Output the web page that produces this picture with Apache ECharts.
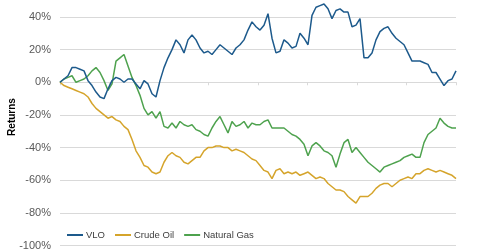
<!DOCTYPE html>
<html>
<head>
<meta charset="utf-8">
<script src="https://cdn.jsdelivr.net/npm/echarts@6/dist/echarts.min.js"></script>
<style>html,body{margin:0;padding:0;background:#fff}#c{width:480px;height:251px}</style>
</head>
<body>
<div id="c"></div>
<script>
var seriesNames = ['VLO', 'Crude Oil', 'Natural Gas'];
var yTicks = [-100, -80, -60, -40, -20, 0, 20, 40];
var vlo = [0,2,4,9,9,8,7,1,-2,-6,-9,-10,-4,1,3,2,0,2,2,-1,-4,1,-1,-7,-9,1,9,15,20,26,23,18,26,29,26,21,18,19,17,20,23,21,19,17,21,23,26,32,37,34,32,35,42,27,18,19,26,24,21,22,30,27,23,41,46,47,48,45,39,44,45,43,43,34,35,39,15,15,18,26,31,33,34,30,27,25,23,18,13,13,13,12,11,6,6,2,-2,1,2,7];
var crude = [0,-2,-3,-4,-5,-6,-7,-9,-13,-16,-18,-20,-22,-21,-23,-24,-27,-29,-35,-42,-46,-51,-52,-55,-56,-55,-49,-45,-43,-45,-46,-49,-50,-48,-46,-46,-42,-40,-40,-39,-39,-40,-40,-42,-41,-42,-43,-45,-47,-48,-51,-54,-55,-59,-54,-53,-56,-55,-56,-55,-57,-56,-55,-57,-59,-58,-59,-62,-64,-66,-66,-67,-70,-72,-74,-70,-70,-70,-68,-65,-63,-62,-62,-64,-62,-60,-59,-58,-59,-56,-56,-54,-53,-54,-55,-54,-55,-56,-57,-59];
var gas = [0,2,3,4,0,1,2,4,7,9,6,1,-5,-1,13,15,17,10,3,-2,-8,-16,-20,-18,-22,-18,-27,-28,-25,-28,-24,-26,-27,-26,-29,-30,-32,-33,-28,-24,-21,-26,-31,-24,-27,-26,-24,-28,-25,-26,-26,-24,-23,-28,-28,-28,-28,-30,-32,-33,-35,-38,-45,-39,-37,-39,-42,-43,-45,-52,-44,-37,-35,-43,-40,-43,-46,-49,-51,-53,-55,-52,-51,-50,-49,-48,-46,-45,-44,-46,-46,-37,-32,-30,-28,-22,-25,-27,-28,-28];
var colors = ['#1d5a8c', '#d5a42b', '#4ea24e'];

function pairs(arr){ return arr.map(function(v,i){ return [i, v]; }); }
var n = vlo.length - 1;

var chart = echarts.init(document.getElementById('c'), null, {renderer:'canvas'});
chart.setOption({
  animation: false,
  backgroundColor: '#ffffff',
  color: colors,
  grid: {left: 60, right: 24, top: 17, bottom: 5, containLabel: false},
  legend: {
    data: seriesNames,
    left: 62, top: 225,
    icon: 'rect', itemWidth: 16, itemHeight: 2, itemGap: 10,
    textStyle: {fontFamily: 'Liberation Sans, Arial', fontSize: 9.5, color: '#404040', padding: [0,0,0,-2]}
  },
  xAxis: {
    type: 'value', min: 0, max: n, interval: n / 8,
    axisLine: {onZero: true, lineStyle: {color: '#d9d9d9', width: 1}},
    axisTick: {show: true, length: 3, lineStyle: {color: '#d9d9d9'}},
    axisLabel: {show: false},
    splitLine: {show: false}
  },
  yAxis: {
    type: 'value', min: yTicks[0], max: yTicks[yTicks.length-1], interval: 20,
    axisLine: {show: false}, axisTick: {show: false},
    axisLabel: {formatter: '{value}%', color: '#595959', fontSize: 11, fontFamily: 'Liberation Sans, Arial', margin: 9},
    splitLine: {lineStyle: {color: '#d9d9d9', width: 1}}
  },
  graphic: [{
    type: 'text', x: 12, y: 117, rotation: Math.PI / 2,
    style: {text: 'Returns', fontFamily: 'Liberation Sans, Arial', fontSize: 10, fontWeight: 'bold', fill: '#000', align: 'center', verticalAlign: 'middle'}
  }],
  series: [
    {name: seriesNames[0], type: 'line', data: pairs(vlo), showSymbol: false, clip: false, lineStyle: {width: 1.5}, z: 3},
    {name: seriesNames[1], type: 'line', data: pairs(crude), showSymbol: false, clip: false, lineStyle: {width: 1.5}, z: 2},
    {name: seriesNames[2], type: 'line', data: pairs(gas), showSymbol: false, clip: false, lineStyle: {width: 1.5}, z: 2}
  ]
});
</script>
</body>
</html>
